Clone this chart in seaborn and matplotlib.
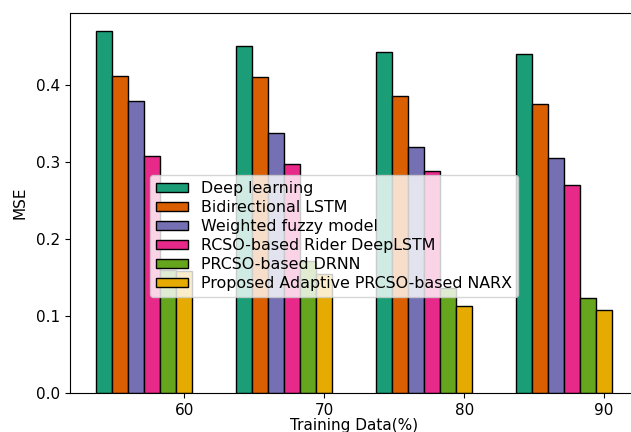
import matplotlib
matplotlib.use("Agg")
import matplotlib.pyplot as plt
from matplotlib.patches import Patch
import seaborn as sns
import pandas as pd
import numpy as np

groups = ["60", "70", "80", "90"]
models = [
    "Deep learning",
    "Bidirectional LSTM",
    "Weighted fuzzy model",
    "RCSO-based Rider DeepLSTM",
    "PRCSO-based DRNN",
    "Proposed Adaptive PRCSO-based NARX",
]
deep_learning = [0.470, 0.450, 0.442, 0.440]
bidirectional_lstm = [0.411, 0.410, 0.385, 0.375]
weighted_fuzzy = [0.379, 0.338, 0.320, 0.305]
rcso_rider = [0.308, 0.297, 0.288, 0.270]
prcso_drnn = [0.160, 0.172, 0.136, 0.123]
proposed_narx = [0.158, 0.155, 0.113, 0.108]

series = [deep_learning, bidirectional_lstm, weighted_fuzzy, rcso_rider, prcso_drnn, proposed_narx]
rows = []
for m, vals in zip(models, series):
    for g, v in zip(groups, vals):
        rows.append({"Training": g, "MSE": v, "Model": m})
df = pd.DataFrame(rows)

palette = sns.color_palette("Dark2", 6)

fig = plt.figure(figsize=(6.31, 4.32), dpi=100)
W, H = 631, 432
left, right, top, bottom = 70, 638, 12.7, 393.3
ax = fig.add_axes([left / W, (H - bottom) / H, (right - left) / W, (bottom - top) / H])

total_w = 0.69
sns.barplot(data=df, x="Training", y="MSE", hue="Model", hue_order=models,
            order=groups, palette=palette, width=total_w, edgecolor="black",
            linewidth=1.0, saturation=1, legend=False, ax=ax, errorbar=None)

fs = 11
bw = total_w / 6
ax.set_xticks(np.arange(len(groups)) + 2.5 * bw)
ax.set_xticklabels(groups, fontsize=fs)
ax.tick_params(axis="y", labelsize=fs)
ax.set_xlim(-0.53, 3.53)
ax.set_ylim(0, 0.4935)
ax.set_yticks([0.0, 0.1, 0.2, 0.3, 0.4])
ax.set_xlabel("Training Data(%)", fontsize=fs, labelpad=0.3)
ax.set_ylabel("MSE", fontsize=fs, labelpad=6)

handles = [Patch(facecolor=c, edgecolor="black", linewidth=1.0) for c in palette]
ax.legend(handles, models, loc="upper left",
          bbox_to_anchor=((150 - left) / (right - left), (bottom - 175) / (bottom - top)),
          fontsize=11.4, borderaxespad=0, labelspacing=0.25, handlelength=2.0,
          handleheight=0.5, handletextpad=0.8)

fig.savefig("out.png", dpi=100)
